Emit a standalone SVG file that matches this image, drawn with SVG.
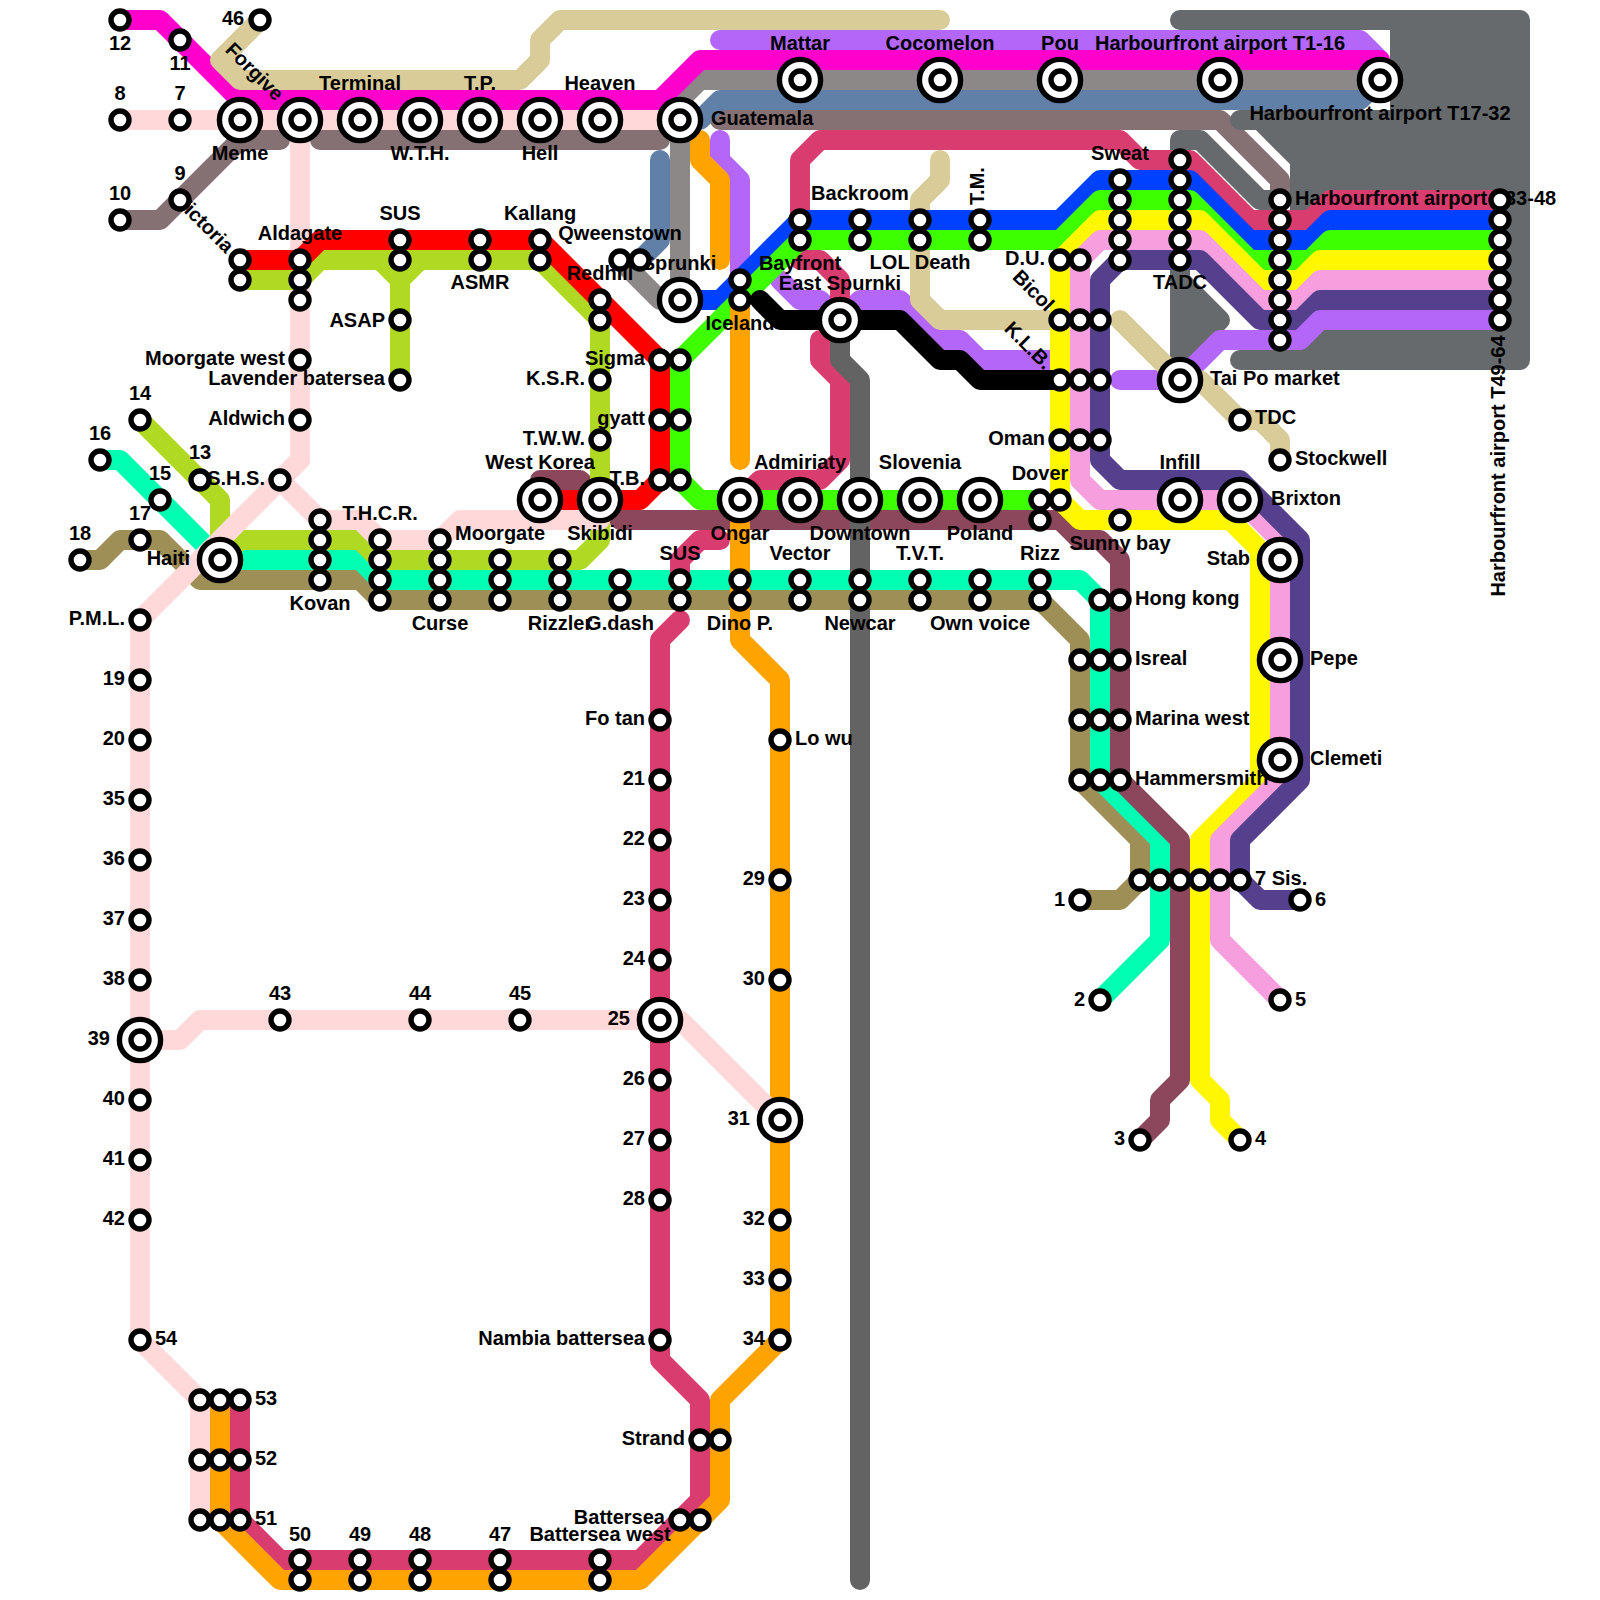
<svg xmlns="http://www.w3.org/2000/svg" width="1600" height="1600" viewBox="0 0 1600 1600">
<style>
.l{fill:none;stroke-width:20;stroke-linecap:round;stroke-linejoin:round}
text{font:bold 20px "Liberation Sans",Arial,sans-serif;fill:#000;text-anchor:middle}
.e{text-anchor:end}.s{text-anchor:start}
.mag{stroke:#ff00cc}.pp{stroke:#ffd9d9}.tau{stroke:#857074}.tan{stroke:#d9cc99}.lim{stroke:#b0d924}.red{stroke:#ff0000}.grn{stroke:#3dff00}.blu{stroke:#0040ff}.yel{stroke:#fff700}.pnk{stroke:#f79ede}.ind{stroke:#54408c}.pur{stroke:#b366f7}.cri{stroke:#d93d70}.org{stroke:#ffa300}.min{stroke:#00ffb3}.olv{stroke:#9e8f57}.mar{stroke:#8c475c}.gry{stroke:#8c8888}.stl{stroke:#6080a8}.dk{stroke:#666a6d}.mid{stroke:#636363}.blk{stroke:#000}
.r{fill:#fff;stroke:#000;stroke-width:5.4}
</style>
<defs>
<g id="st"><circle class="r" r="9"/></g>
<g id="bg"><circle class="r" r="20.6"/><circle class="r" r="9"/></g>
</defs>
<g id="connectors">
<path class="l tau" d="M120 220H160L240 140H280M320 140H660M720 120H1220L1280 180V200"/>
<path class="l dk" style="fill:#666a6d" d="M1180 20H1520V360H1240H1300V160L1260 120H1240H1400V20Z"/>
<path class="l dk" d="M1180 140H1200L1260 200H1280M1180 140V380"/>
<path class="l dk" style="fill:#666a6d" d="M1180 280L1220 320L1180 360Z"/>
<path class="l pp" d="M300 120V460"/>
<path class="l olv" d="M80 560H100L120 540H160L200 580H360L380 600H1040L1080 640V780L1140 840V880L1120 900H1080"/>
<path class="l min" d="M100 460H120L220 560H360L380 580H1080L1100 600V780L1160 840V940L1100 1000"/>
<path class="l mar" d="M540 500V480H580L600 500L620 520H1060L1080 540H1100L1120 560V780L1180 840V1080L1160 1100V1120L1140 1140"/>
<path class="l pur" d="M720 40H1360L1380 60V80M720 140V160L740 180V280M780 280L800 300H820L840 320L860 300H900L940 340H960L980 360H1060M1120 380H1180L1220 340H1300L1320 320H1500"/>
<path class="l lim" d="M240 280H300L320 260H540L600 320V540L580 560H380L360 540H240L220 560V500L140 420M380 260L400 280V380M420 260L400 280"/>
<path class="l red" d="M240 260H300L320 240H540L660 360V480L640 500H540"/>
<path class="l stl" d="M660 160V240L640 260M680 120H700L720 100H1360L1380 80"/>
<path class="l gry" d="M620 260L660 300H680V100L700 80H1380"/>
<path class="l mag" d="M120 20H160L240 100H660L700 60H1380V80"/>
<path class="l tan" d="M260 20L220 60L240 80H520L540 60V40L560 20H940M940 160V180L920 200V300L940 320H1060M1120 320L1180 380H1200L1240 420H1260L1280 440V460"/>
<path class="l cri" d="M800 220V160L820 140H1120L1140 160H1190L1250 220H1310L1330 200H1500M800 240V260H820L840 280V320M820 340V360L840 380V460L820 480H760L740 500M680 580V560L700 540H720M680 620L660 640V1360L700 1400V1500L640 1560H280L240 1520V1400"/>
<path class="l blu" d="M680 300H720L800 220H1060L1100 180H1190L1250 240H1310L1330 220H1500"/>
<path class="l grn" d="M1040 500H700L680 480V360L800 240H1060L1100 200H1190L1250 260H1310L1330 240H1500"/>
<path class="l yel" d="M1240 1140L1220 1120V1100L1200 1080V840L1260 780V550L1230 520H1080L1060 500V260L1100 220H1200L1260 280H1300L1320 260H1500"/>
<path class="l pnk" d="M1280 1000L1220 940V840L1280 780V540L1240 500H1100L1080 480V260L1100 240H1200L1260 300H1300L1320 280H1500"/>
<path class="l ind" d="M1300 900H1260L1240 880V840L1300 780V540L1240 480H1120L1100 460V280L1120 260H1200L1260 320H1300L1320 300H1500"/>
<path class="l pur" d="M1280 340H1300L1320 320H1500"/>
<path class="l blk" d="M760 300L780 320H900L940 360H960L980 380H1060"/>
<path class="l org" d="M700 140V160L720 180V260M740 300V460M740 500V640L780 680V1340L720 1400V1500L640 1580H280L220 1520V1400"/>
<path class="l mid" d="M840 320V360L860 380V580M860 600V1580"/>
<path class="l pp" d="M120 120H680M300 460L140 620V1340L200 1400V1520M280 480L320 520H360L380 540H440L460 520H600M140 1040H180L200 1020H660H680L780 1120"/>
</g>
<g id="nodes">
<g id="n-meme"><text transform="rotate(45 254 72)" x="254" y="78">Forgive</text><text x="240" y="160">Meme</text><use href="#bg" x="240" y="120"/></g>
<g id="n-victoria"><text transform="rotate(45 204 224)" x="204" y="230">Victoria</text><use href="#st" x="240" y="260"/></g>
<g id="n-sprunki"><text x="679" y="270">Sprunki</text><use href="#bg" x="680" y="300"/></g>
<g id="n-t3348"><text class="s" x="1295" y="205">Harbourfront airport T33-48</text><use href="#st" x="1280" y="200"/></g>
<g id="n-t4964"><text transform="rotate(-90 1499 466)" x="1499" y="472">Harbourfront airport T49-64</text><use href="#st" x="1500" y="320"/></g>
<g id="n-t1732"><text x="1380" y="120">Harbourfront airport T17-32</text><use href="#bg" x="1380" y="80"/></g>
<g id="n-redhill"><text x="600" y="280">Redhill</text><use href="#st" x="600" y="300"/></g>
<g id="n-qweens"><text x="620" y="240">Qweenstown</text><use href="#st" x="620" y="260"/></g>
<g id="n-bicol"><text transform="rotate(45 1033 291)" x="1033" y="297">Bicol</text><use href="#st" x="1060" y="320"/></g>
<g id="n-klb"><text transform="rotate(45 1028 346)" x="1028" y="352">K.L.B.</text><use href="#st" x="1060" y="380"/></g>
<g id="n-12"><text x="120" y="50">12</text><use href="#st" x="120" y="20"/></g>
<g id="n-11"><text x="180" y="70">11</text><use href="#st" x="180" y="40"/></g>
<g id="n-46"><text x="233" y="25">46</text><use href="#st" x="260" y="20"/></g>
<g id="n-8"><text x="120" y="100">8</text><use href="#st" x="120" y="120"/></g>
<g id="n-7"><text x="180" y="100">7</text><use href="#st" x="180" y="120"/></g>
<g id="n-10"><text x="120" y="200">10</text><use href="#st" x="120" y="220"/></g>
<g id="n-9"><text x="180" y="180">9</text><use href="#st" x="180" y="200"/></g>
<g id="n-terminal"><text x="360" y="90">Terminal</text><use href="#bg" x="360" y="120"/></g>
<g id="n-wth"><text x="420" y="160">W.T.H.</text><use href="#bg" x="420" y="120"/></g>
<g id="n-tp"><text x="480" y="90">T.P.</text><use href="#bg" x="480" y="120"/></g>
<g id="n-hell"><text x="540" y="160">Hell</text><use href="#bg" x="540" y="120"/></g>
<g id="n-heaven"><text x="600" y="90">Heaven</text><use href="#bg" x="600" y="120"/></g>
<g id="n-guatemala"><text class="s" x="711" y="125">Guatemala</text><use href="#bg" x="680" y="120"/></g>
<g id="n-mattar"><text x="800" y="50">Mattar</text><use href="#bg" x="800" y="80"/></g>
<g id="n-cocomelon"><text x="940" y="50">Cocomelon</text><use href="#bg" x="940" y="80"/></g>
<g id="n-pou"><text x="1060" y="50">Pou</text><use href="#bg" x="1060" y="80"/></g>
<g id="n-t116"><text x="1220" y="50">Harbourfront airport T1-16</text><use href="#bg" x="1220" y="80"/></g>
<g id="n-aldagate"><text x="300" y="240">Aldagate</text><use href="#st" x="300" y="260"/></g>
<g id="n-sus"><text x="400" y="220">SUS</text><use href="#st" x="400" y="240"/></g>
<g id="n-asmr"><text x="480" y="289">ASMR</text><use href="#st" x="480" y="260"/></g>
<g id="n-kallang"><text x="540" y="220">Kallang</text><use href="#st" x="540" y="240"/></g>
<g id="n-asap"><text class="e" x="385" y="327">ASAP</text><use href="#st" x="400" y="320"/></g>
<g id="n-lavender"><text class="e" x="385" y="385">Lavender batersea</text><use href="#st" x="400" y="380"/></g>
<g id="n-mwest"><text class="e" x="285" y="365">Moorgate west</text><use href="#st" x="300" y="360"/></g>
<g id="n-aldwich"><text class="e" x="285" y="425">Aldwich</text><use href="#st" x="300" y="420"/></g>
<g id="n-shs"><text class="e" x="265" y="485">S.H.S.</text><use href="#st" x="280" y="480"/></g>
<g id="n-ksr"><text class="e" x="585" y="385">K.S.R.</text><use href="#st" x="600" y="380"/></g>
<g id="n-tww"><text class="e" x="585" y="445">T.W.W.</text><use href="#st" x="600" y="440"/></g>
<g id="n-sigma"><text class="e" x="645" y="365">Sigma</text><use href="#st" x="660" y="360"/></g>
<g id="n-gyatt"><text class="e" x="645" y="425">gyatt</text><use href="#st" x="660" y="420"/></g>
<g id="n-tb"><text class="e" x="645" y="485">T.B.</text><use href="#st" x="660" y="480"/></g>
<g id="n-wk"><text x="540" y="469">West Korea</text><use href="#bg" x="540" y="500"/></g>
<g id="n-skibidi"><text x="600" y="540">Skibidi</text><use href="#bg" x="600" y="500"/></g>
<g id="n-13"><text x="200" y="459">13</text><use href="#st" x="200" y="480"/></g>
<g id="n-14"><text x="140" y="400">14</text><use href="#st" x="140" y="420"/></g>
<g id="n-16"><text x="100" y="440">16</text><use href="#st" x="100" y="460"/></g>
<g id="n-15"><text x="160" y="480">15</text><use href="#st" x="160" y="500"/></g>
<g id="n-17"><text x="140" y="520">17</text><use href="#st" x="140" y="540"/></g>
<g id="n-18"><text x="80" y="540">18</text><use href="#st" x="80" y="560"/></g>
<g id="n-haiti"><text class="e" x="190" y="565">Haiti</text><use href="#bg" x="220" y="560"/></g>
<g id="n-pml"><text class="e" x="125" y="625">P.M.L.</text><use href="#st" x="140" y="620"/></g>
<g id="n-thcr"><text x="380" y="520">T.H.C.R.</text><use href="#st" x="380" y="540"/></g>
<g id="n-kovan"><text x="320" y="610">Kovan</text><use href="#st" x="320" y="580"/></g>
<g id="n-moorgate"><text class="s" x="455" y="540">Moorgate</text><use href="#st" x="440" y="540"/></g>
<g id="n-curse"><text x="440" y="630">Curse</text><use href="#st" x="440" y="600"/></g>
<g id="n-rizzler"><text x="560" y="630">Rizzler</text><use href="#st" x="560" y="600"/></g>
<g id="n-gdash"><text x="620" y="630">G.dash</text><use href="#st" x="620" y="600"/></g>
<g id="n-sus2"><text x="680" y="560">SUS</text><use href="#st" x="680" y="580"/></g>
<g id="n-backroom"><text x="860" y="200">Backroom</text><use href="#st" x="860" y="220"/></g>
<g id="n-tm"><text transform="rotate(-90 978 186)" x="978" y="192">T.M.</text><use href="#st" x="980" y="220"/></g>
<g id="n-lol"><text x="920" y="269">LOL Death</text><use href="#st" x="920" y="240"/></g>
<g id="n-bayfront"><text x="800" y="270">Bayfront</text><use href="#st" x="800" y="240"/></g>
<g id="n-espurnki"><text x="840" y="290">East Spurnki</text><use href="#bg" x="840" y="320"/></g>
<g id="n-iceland"><text x="740" y="330">Iceland</text><use href="#st" x="740" y="300"/></g>
<g id="n-du"><text class="e" x="1045" y="265">D.U.</text><use href="#st" x="1060" y="260"/></g>
<g id="n-oman"><text class="e" x="1045" y="445">Oman</text><use href="#st" x="1060" y="440"/></g>
<g id="n-admiriaty"><text x="800" y="469">Admiriaty</text><use href="#bg" x="800" y="500"/></g>
<g id="n-slovenia"><text x="920" y="469">Slovenia</text><use href="#bg" x="920" y="500"/></g>
<g id="n-dover"><text x="1040" y="480">Dover</text><use href="#st" x="1040" y="500"/></g>
<g id="n-ongar"><text x="740" y="540">Ongar</text><use href="#bg" x="740" y="500"/></g>
<g id="n-downtown"><text x="860" y="540">Downtown</text><use href="#bg" x="860" y="500"/></g>
<g id="n-poland"><text x="980" y="540">Poland</text><use href="#bg" x="980" y="500"/></g>
<g id="n-vector"><text x="800" y="560">Vector</text><use href="#st" x="800" y="580"/></g>
<g id="n-tvt"><text x="920" y="560">T.V.T.</text><use href="#st" x="920" y="580"/></g>
<g id="n-rizz"><text x="1040" y="560">Rizz</text><use href="#st" x="1040" y="580"/></g>
<g id="n-dino"><text x="740" y="630">Dino P.</text><use href="#st" x="740" y="600"/></g>
<g id="n-newcar"><text x="860" y="630">Newcar</text><use href="#st" x="860" y="600"/></g>
<g id="n-ownvoice"><text x="980" y="630">Own voice</text><use href="#st" x="980" y="600"/></g>
<g id="n-sweat"><text x="1120" y="160">Sweat</text><use href="#st" x="1120" y="180"/></g>
<g id="n-tadc"><text x="1180" y="289">TADC</text><use href="#st" x="1180" y="260"/></g>
<g id="n-sunny"><text x="1120" y="550">Sunny bay</text><use href="#st" x="1120" y="520"/></g>
<g id="n-infill"><text x="1180" y="469">Infill</text><use href="#bg" x="1180" y="500"/></g>
<g id="n-taipo"><text class="s" x="1210" y="385">Tai Po market</text><use href="#bg" x="1180" y="380"/></g>
<g id="n-tdc"><text class="s" x="1255" y="424">TDC</text><use href="#st" x="1240" y="420"/></g>
<g id="n-stockwell"><text class="s" x="1295" y="465">Stockwell</text><use href="#st" x="1280" y="460"/></g>
<g id="n-brixton"><text class="s" x="1271" y="505">Brixton</text><use href="#bg" x="1240" y="500"/></g>
<g id="n-stab"><text class="e" x="1250" y="565">Stab</text><use href="#bg" x="1280" y="560"/></g>
<g id="n-hongkong"><text class="s" x="1135" y="605">Hong kong</text><use href="#st" x="1120" y="600"/></g>
<g id="n-isreal"><text class="s" x="1135" y="665">Isreal</text><use href="#st" x="1120" y="660"/></g>
<g id="n-marina"><text class="s" x="1135" y="725">Marina west</text><use href="#st" x="1120" y="720"/></g>
<g id="n-hammersmith"><text class="s" x="1135" y="785">Hammersmith</text><use href="#st" x="1120" y="780"/></g>
<g id="n-pepe"><text class="s" x="1310" y="665">Pepe</text><use href="#bg" x="1280" y="660"/></g>
<g id="n-clemeti"><text class="s" x="1310" y="765">Clemeti</text><use href="#bg" x="1280" y="760"/></g>
<g id="n-sis"><text class="s" x="1255" y="885">7 Sis.</text><use href="#st" x="1240" y="880"/></g>
<g id="n-1"><text class="e" x="1065" y="906">1</text><use href="#st" x="1080" y="900"/></g>
<g id="n-2"><text class="e" x="1085" y="1006">2</text><use href="#st" x="1100" y="1000"/></g>
<g id="n-3"><text class="e" x="1125" y="1145">3</text><use href="#st" x="1140" y="1140"/></g>
<g id="n-4"><text class="s" x="1255" y="1145">4</text><use href="#st" x="1240" y="1140"/></g>
<g id="n-5"><text class="s" x="1295" y="1006">5</text><use href="#st" x="1280" y="1000"/></g>
<g id="n-6"><text class="s" x="1315" y="906">6</text><use href="#st" x="1300" y="900"/></g>
<g id="n-lowu"><text class="s" x="795" y="745">Lo wu</text><use href="#st" x="780" y="740"/></g>
<g id="n-fotan"><text class="e" x="645" y="725">Fo tan</text><use href="#st" x="660" y="720"/></g>
<g id="n-21"><text class="e" x="645" y="785">21</text><use href="#st" x="660" y="780"/></g>
<g id="n-22"><text class="e" x="645" y="845">22</text><use href="#st" x="660" y="840"/></g>
<g id="n-23"><text class="e" x="645" y="905">23</text><use href="#st" x="660" y="900"/></g>
<g id="n-24"><text class="e" x="645" y="965">24</text><use href="#st" x="660" y="960"/></g>
<g id="n-25"><text class="e" x="630" y="1025">25</text><use href="#bg" x="660" y="1020"/></g>
<g id="n-26"><text class="e" x="645" y="1085">26</text><use href="#st" x="660" y="1080"/></g>
<g id="n-27"><text class="e" x="645" y="1145">27</text><use href="#st" x="660" y="1140"/></g>
<g id="n-28"><text class="e" x="645" y="1205">28</text><use href="#st" x="660" y="1200"/></g>
<g id="n-nambia"><text class="e" x="645" y="1345">Nambia battersea</text><use href="#st" x="660" y="1340"/></g>
<g id="n-29"><text class="e" x="765" y="885">29</text><use href="#st" x="780" y="880"/></g>
<g id="n-30"><text class="e" x="765" y="985">30</text><use href="#st" x="780" y="980"/></g>
<g id="n-31"><text class="e" x="750" y="1125">31</text><use href="#bg" x="780" y="1120"/></g>
<g id="n-32"><text class="e" x="765" y="1225">32</text><use href="#st" x="780" y="1220"/></g>
<g id="n-33"><text class="e" x="765" y="1285">33</text><use href="#st" x="780" y="1280"/></g>
<g id="n-34"><text class="e" x="765" y="1345">34</text><use href="#st" x="780" y="1340"/></g>
<g id="n-19"><text class="e" x="125" y="685">19</text><use href="#st" x="140" y="680"/></g>
<g id="n-20"><text class="e" x="125" y="745">20</text><use href="#st" x="140" y="740"/></g>
<g id="n-35"><text class="e" x="125" y="805">35</text><use href="#st" x="140" y="800"/></g>
<g id="n-36"><text class="e" x="125" y="865">36</text><use href="#st" x="140" y="860"/></g>
<g id="n-37"><text class="e" x="125" y="925">37</text><use href="#st" x="140" y="920"/></g>
<g id="n-38"><text class="e" x="125" y="985">38</text><use href="#st" x="140" y="980"/></g>
<g id="n-39"><text class="e" x="110" y="1045">39</text><use href="#bg" x="140" y="1040"/></g>
<g id="n-40"><text class="e" x="125" y="1105">40</text><use href="#st" x="140" y="1100"/></g>
<g id="n-41"><text class="e" x="125" y="1165">41</text><use href="#st" x="140" y="1160"/></g>
<g id="n-42"><text class="e" x="125" y="1225">42</text><use href="#st" x="140" y="1220"/></g>
<g id="n-54"><text class="s" x="155" y="1345">54</text><use href="#st" x="140" y="1340"/></g>
<g id="n-53"><text class="s" x="255" y="1405">53</text><use href="#st" x="240" y="1400"/></g>
<g id="n-52"><text class="s" x="255" y="1465">52</text><use href="#st" x="240" y="1460"/></g>
<g id="n-51"><text class="s" x="255" y="1525">51</text><use href="#st" x="240" y="1520"/></g>
<g id="n-50"><text x="300" y="1541">50</text><use href="#st" x="300" y="1560"/></g>
<g id="n-49"><text x="360" y="1541">49</text><use href="#st" x="360" y="1560"/></g>
<g id="n-48"><text x="420" y="1541">48</text><use href="#st" x="420" y="1560"/></g>
<g id="n-47"><text x="500" y="1541">47</text><use href="#st" x="500" y="1560"/></g>
<g id="n-bwest"><text x="600" y="1541">Battersea west</text><use href="#st" x="600" y="1560"/></g>
<g id="n-battersea"><text class="e" x="665" y="1524">Battersea</text><use href="#st" x="680" y="1520"/></g>
<g id="n-strand"><text class="e" x="685" y="1445">Strand</text><use href="#st" x="700" y="1440"/></g>
<g id="n-43"><text x="280" y="1000">43</text><use href="#st" x="280" y="1020"/></g>
<g id="n-44"><text x="420" y="1000">44</text><use href="#st" x="420" y="1020"/></g>
<g id="n-45"><text x="520" y="1000">45</text><use href="#st" x="520" y="1020"/></g>
<g id="n-unlabelled">
<use href="#bg" x="300" y="120"/>
<use href="#st" x="240" y="280"/><use href="#st" x="300" y="280"/><use href="#st" x="300" y="300"/><use href="#st" x="400" y="260"/><use href="#st" x="480" y="240"/><use href="#st" x="540" y="260"/><use href="#st" x="640" y="260"/><use href="#st" x="600" y="320"/><use href="#st" x="680" y="360"/><use href="#st" x="680" y="420"/><use href="#st" x="680" y="480"/><use href="#st" x="740" y="280"/>
<use href="#st" x="320" y="520"/><use href="#st" x="320" y="540"/><use href="#st" x="320" y="560"/><use href="#st" x="380" y="560"/><use href="#st" x="380" y="580"/><use href="#st" x="380" y="600"/><use href="#st" x="440" y="560"/><use href="#st" x="440" y="580"/><use href="#st" x="500" y="560"/><use href="#st" x="500" y="580"/><use href="#st" x="500" y="600"/><use href="#st" x="560" y="560"/><use href="#st" x="560" y="580"/><use href="#st" x="620" y="580"/><use href="#st" x="680" y="600"/><use href="#st" x="740" y="580"/><use href="#st" x="800" y="600"/><use href="#st" x="860" y="580"/><use href="#st" x="920" y="600"/><use href="#st" x="980" y="580"/><use href="#st" x="1040" y="600"/>
<use href="#st" x="800" y="220"/><use href="#st" x="860" y="240"/><use href="#st" x="920" y="220"/><use href="#st" x="980" y="240"/><use href="#st" x="1080" y="260"/><use href="#st" x="1080" y="320"/><use href="#st" x="1100" y="320"/><use href="#st" x="1080" y="380"/><use href="#st" x="1100" y="380"/><use href="#st" x="1080" y="440"/><use href="#st" x="1100" y="440"/>
<use href="#st" x="1120" y="200"/><use href="#st" x="1120" y="220"/><use href="#st" x="1120" y="240"/><use href="#st" x="1120" y="260"/><use href="#st" x="1180" y="160"/><use href="#st" x="1180" y="180"/><use href="#st" x="1180" y="200"/><use href="#st" x="1180" y="220"/><use href="#st" x="1180" y="240"/>
<use href="#st" x="1280" y="220"/><use href="#st" x="1280" y="240"/><use href="#st" x="1280" y="260"/><use href="#st" x="1280" y="280"/><use href="#st" x="1280" y="300"/><use href="#st" x="1280" y="320"/><use href="#st" x="1280" y="340"/>
<use href="#st" x="1500" y="200"/><use href="#st" x="1500" y="220"/><use href="#st" x="1500" y="240"/><use href="#st" x="1500" y="260"/><use href="#st" x="1500" y="280"/><use href="#st" x="1500" y="300"/>
<use href="#st" x="1040" y="520"/><use href="#st" x="1060" y="500"/><use href="#st" x="1100" y="600"/><use href="#st" x="1080" y="660"/><use href="#st" x="1100" y="660"/><use href="#st" x="1080" y="720"/><use href="#st" x="1100" y="720"/><use href="#st" x="1080" y="780"/><use href="#st" x="1100" y="780"/>
<use href="#st" x="1140" y="880"/><use href="#st" x="1160" y="880"/><use href="#st" x="1180" y="880"/><use href="#st" x="1200" y="880"/><use href="#st" x="1220" y="880"/>
<use href="#st" x="720" y="1440"/><use href="#st" x="700" y="1520"/><use href="#st" x="300" y="1580"/><use href="#st" x="360" y="1580"/><use href="#st" x="420" y="1580"/><use href="#st" x="500" y="1580"/><use href="#st" x="600" y="1580"/>
<use href="#st" x="200" y="1400"/><use href="#st" x="220" y="1400"/><use href="#st" x="200" y="1460"/><use href="#st" x="220" y="1460"/><use href="#st" x="200" y="1520"/><use href="#st" x="220" y="1520"/>
</g>
</g>
</svg>
